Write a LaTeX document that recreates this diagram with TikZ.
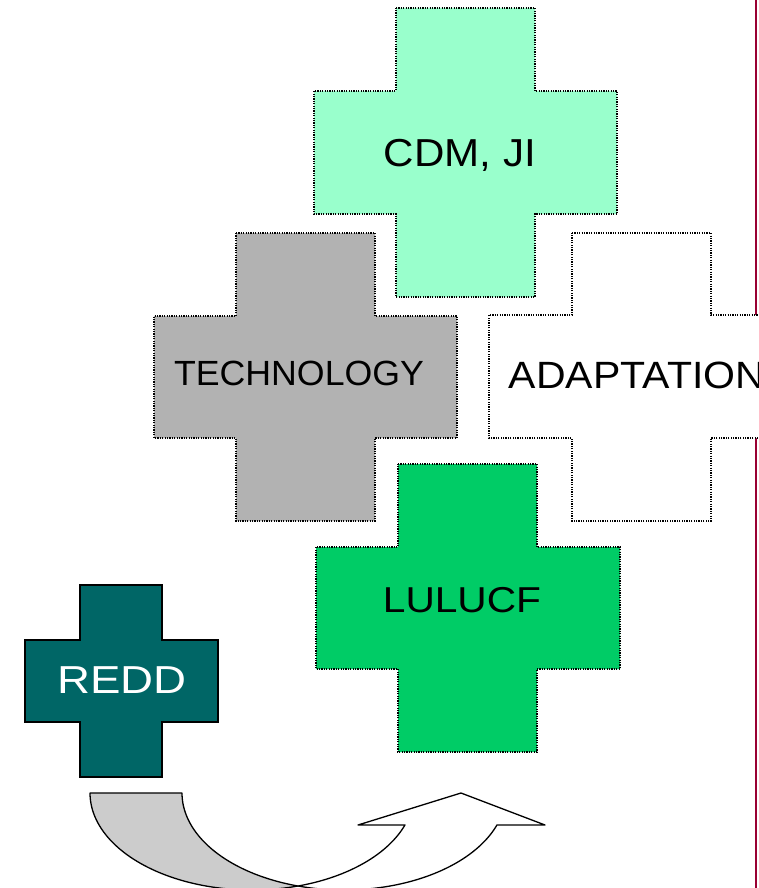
\documentclass[tikz,border=0pt]{standalone}
\usepackage{fontspec}
\setmainfont{Liberation Sans}
\usepackage{graphicx}
\definecolor{cdmgreen}{HTML}{99FFCC}
\definecolor{techgray}{HTML}{B2B2B2}
\definecolor{lulugreen}{HTML}{00CC66}
\definecolor{reddteal}{HTML}{006666}
\definecolor{maroonline}{HTML}{990033}
\definecolor{arrowgray}{HTML}{CCCCCC}
\begin{document}
\begin{tikzpicture}[x=1pt,y=-1pt,
  crossbox/.style={draw=black, line width=1.2pt, dash pattern=on 1.2pt off 1.2pt},
  solidcross/.style={draw=black, line width=1.5pt},
  bandshape/.style={draw=black, line width=1.3pt, line join=round},
  lbl/.style={inner sep=0pt, anchor=base, text=black}]
\useasboundingbox (0,0) rectangle (759,888);
\clip (0,0) rectangle (759,888);
% vertical maroon rule
\draw[maroonline, line width=2pt] (756,0) -- (756,888);
% CDM, JI cross
\filldraw[crossbox, fill=cdmgreen] (396,8) -- (535,8) -- (535,91) -- (617,91) -- (617,214) -- (535,214) -- (535,297) -- (396,297) -- (396,214) -- (314,214) -- (314,91) -- (396,91) -- cycle;
% TECHNOLOGY cross
\filldraw[crossbox, fill=techgray] (236,233) -- (375,233) -- (375,316) -- (457,316) -- (457,438) -- (375,438) -- (375,521) -- (236,521) -- (236,438) -- (154,438) -- (154,316) -- (236,316) -- cycle;
% ADAPTATION cross
\filldraw[crossbox, fill=white] (572,233) -- (711,233) -- (711,315) -- (793,315) -- (793,438) -- (711,438) -- (711,521) -- (572,521) -- (572,438) -- (489,438) -- (489,315) -- (572,315) -- cycle;
% LULUCF cross
\filldraw[crossbox, fill=lulugreen] (398,464) -- (537,464) -- (537,547) -- (620,547) -- (620,669) -- (537,669) -- (537,752) -- (398,752) -- (398,669) -- (316,669) -- (316,547) -- (398,547) -- cycle;
% REDD cross
\filldraw[solidcross, fill=reddteal] (80,585) -- (162,585) -- (162,640) -- (218,640) -- (218,722) -- (162,722) -- (162,777) -- (80,777) -- (80,722) -- (25,722) -- (25,640) -- (80,640) -- cycle;
% curved arrow: back (gray) part
\filldraw[bandshape, fill=arrowgray] (90,793) -- (182,793)
  -- plot[domain=180:106.5, samples=50] ({344+162*cos(\x)}, {793+97*sin(\x)})
  -- plot[domain=73.5:180, samples=60] ({252+162*cos(\x)}, {793+97*sin(\x)}) -- cycle;
% curved arrow: front (white) part with head
\filldraw[bandshape, fill=white] plot[domain=73.5:19.2, samples=40] ({252+162*cos(\x)}, {793+97*sin(\x)})
  -- (358,825) -- (461,793) -- (545,825) -- (497,825)
  -- plot[domain=19.2:106.5, samples=60] ({344+162*cos(\x)}, {793+97*sin(\x)}) -- cycle;
% labels
\node[lbl] (cdm) at (460,166.5) {\fontsize{39}{39}\selectfont\scalebox{1.08}[1]{CDM, JI}};
\node[lbl] (tech) at (299,385) {\fontsize{35}{35}\selectfont\scalebox{1.02}[1]{TECHNOLOGY}};
\node[lbl] (adapt) at (637,388) {\fontsize{38}{38}\selectfont\scalebox{1.08}[1]{ADAPTATION}};
\node[lbl] (lulucf) at (462,612) {\fontsize{36}{36}\selectfont\scalebox{1.13}[1]{LULUCF}};
\node[lbl, text=white] (redd) at (122,693) {\fontsize{39}{39}\selectfont\scalebox{1.17}[1]{REDD}};
\end{tikzpicture}
\end{document}
